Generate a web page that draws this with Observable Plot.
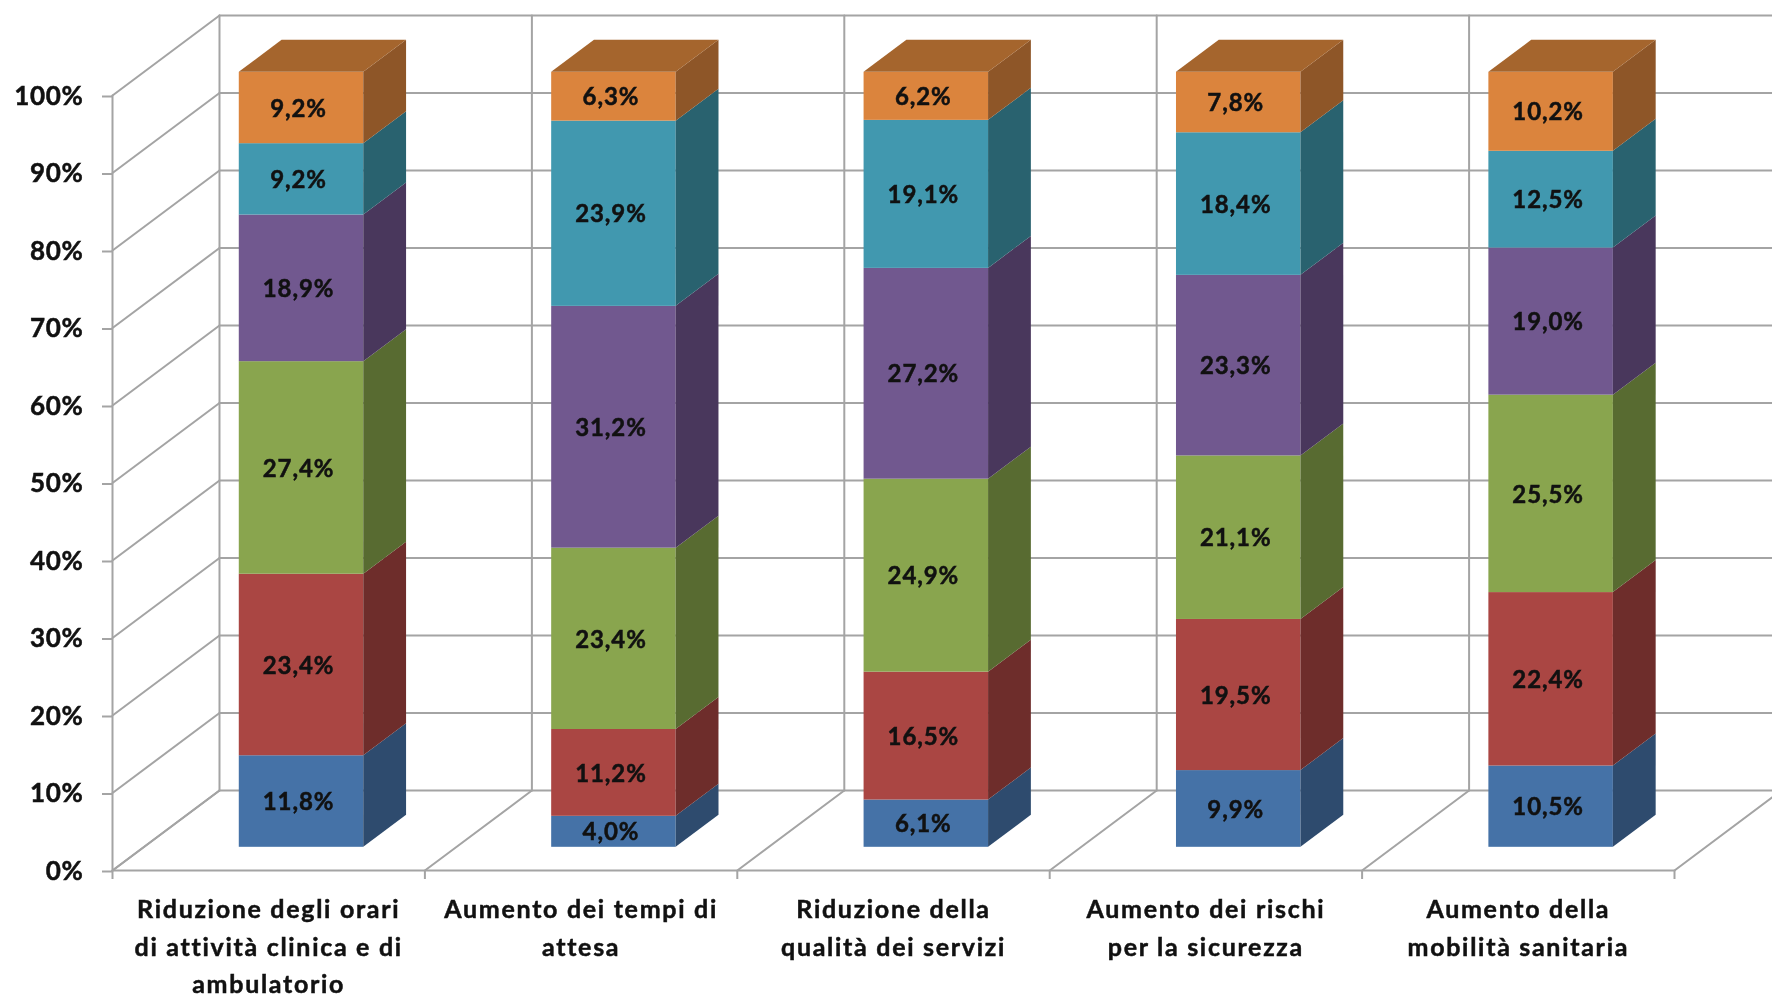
<!DOCTYPE html>
<html>
<head>
<meta charset="utf-8">
<style>
html,body{margin:0;padding:0;background:#fff;overflow:hidden}
svg{display:block}
</style>
<script src="https://cdn.jsdelivr.net/npm/d3@7"></script>
<script src="https://cdn.jsdelivr.net/npm/@observablehq/plot@0.6"></script>
</head>
<body>
<script>
const categories = [
  "Riduzione degli orari\ndi attività clinica e di\nambulatorio",
  "Aumento dei tempi di\nattesa",
  "Riduzione della\nqualità dei servizi",
  "Aumento dei rischi\nper la sicurezza",
  "Aumento della\nmobilità sanitaria"
];
const seriesBlue   = [11.8, 4.0, 6.1, 9.9, 10.5];
const seriesRed    = [23.4, 11.2, 16.5, 19.5, 22.4];
const seriesGreen  = [27.4, 23.4, 24.9, 21.1, 25.5];
const seriesPurple = [18.9, 31.2, 27.2, 23.3, 19.0];
const seriesTeal   = [9.2, 23.9, 19.1, 18.4, 12.5];
const seriesOrange = [9.2, 6.3, 6.2, 7.8, 10.2];
const allSeries = [seriesBlue, seriesRed, seriesGreen, seriesPurple, seriesTeal, seriesOrange];

const frontColors = ["#4572A7", "#AA4643", "#89A54E", "#71588F", "#4198AF", "#DB843D"];
const sideColors  = ["#2E4B6E", "#6E2D2B", "#586B31", "#49375C", "#29626F", "#8E5628"];
const topColor = "#A5652D";
const gridColor = "#A4A4A4";

const yTicks = d3.range(0, 101, 10);
const catEdges = d3.range(0, 6);

// oblique projection: depth 0 = front of the floor, depth 1 = back wall
const depthX = 0.3425, depthY = 10.32;
const px = (c, d) => c + d * depthX;
const py = (p, d) => p + d * depthY;
const barL = 0.3065, barR = 0.705, barD0 = 0.29, barD1 = 0.69;

// 100% stacked: each column is normalised to its own total
const segs = [];
categories.forEach((cat, c) => {
  const total = d3.sum(allSeries, s => s[c]);
  let base = 0;
  allSeries.forEach((s, i) => {
    const v = s[c];
    segs.push({c, i, v, y0: base / total * 100, y1: (base + v) / total * 100});
    base += v;
  });
});

const sides = segs.flatMap(s => [barD0, barD1].map(d => ({
  key: s.c + "-" + s.i, fill: sideColors[s.i],
  x: px(s.c + barR, d), y1: py(s.y0, d), y2: py(s.y1, d)
})));
const topFaces = categories.flatMap((_, c) => [barD0, barD1].map(d => ({
  key: c, y: py(100, d),
  x1: px(c + barL, d), x2: px(c + barR, d)
})));

const gridLines = [
  ...yTicks.flatMap(p => [
    {k: "back" + p, x: px(0, 1), y: py(p, 1)},
    {k: "back" + p, x: px(5, 1), y: py(p, 1)},
    {k: "left" + p, x: px(0, 0), y: py(p, 0)},
    {k: "left" + p, x: px(0, 1), y: py(p, 1)}
  ]),
  ...catEdges.flatMap(e => [
    {k: "floor" + e, x: px(e, 0), y: py(0, 0)},
    {k: "floor" + e, x: px(e, 1), y: py(0, 1)},
    {k: "wall" + e, x: px(e, 1), y: py(0, 1)},
    {k: "wall" + e, x: px(e, 1), y: py(100, 1)}
  ]),
  {k: "axisY", x: 0, y: 0}, {k: "axisY", x: 0, y: 100},
  {k: "axisX", x: 0, y: 0}, {k: "axisX", x: 5, y: 0}
];

const spaced = em => (index, scales, values, dims, ctx, next) => {
  const g = next(index, scales, values, dims, ctx);
  if (g.querySelector("text")) {
    g.style.letterSpacing = em;
    g.style.stroke = "#111";
    g.style.strokeWidth = "0.5px";
  }
  return g;
};

const chart = Plot.plot({
  width: 1772,
  height: 997,
  marginLeft: 112,
  marginRight: 98,
  marginTop: 95,
  marginBottom: 127,
  style: {background: "#fff", fontFamily: "Lato, sans-serif", filter: "blur(0.5px)"},
  x: {domain: [0, 5]},
  y: {domain: [0, 100]},
  color: {type: "identity"},
  marks: [
    Plot.line(gridLines, {x: "x", y: "y", z: "k", stroke: gridColor, strokeWidth: 2}),
    Plot.axisY({ticks: yTicks, tickFormat: d => d + "%", tickSize: 10, tickPadding: 19,
      stroke: gridColor, strokeWidth: 2, fill: "#111", fontSize: 26, fontWeight: "bold", label: null, dy: 1, render: spaced("0.7px")}),
    Plot.axisX({ticks: catEdges, tickFormat: () => "", tickSize: 9,
      stroke: gridColor, strokeWidth: 2, label: null}),
    Plot.rect(segs, {
      x1: d => px(d.c + barL, barD0), x2: d => px(d.c + barR, barD0),
      y1: d => py(d.y0, barD0), y2: d => py(d.y1, barD0),
      fill: d => frontColors[d.i]
    }),
    Plot.areaY(sides, {x: "x", y1: "y1", y2: "y2", z: "key", fill: "fill"}),
    Plot.areaX(topFaces, {y: "y", x1: "x1", x2: "x2", z: "key", fill: topColor}),
    Plot.text(segs, {
      x: d => px(d.c + (barL + barR) / 2, barD0),
      y: d => py((d.y0 + d.y1) / 2, barD0),
      text: d => d.v.toFixed(1).replace(".", ",") + "%",
      dx: -3, dy: 1,
      fontSize: 24, fontWeight: "bold", fill: "#111", render: spaced("0.9px")
    }),
    Plot.text(categories, {
      x: (d, i) => i + 0.5, y: () => 0, text: d => d,
      lineAnchor: "top", dy: 21, fontSize: 25, lineHeight: 1.5,
      fontWeight: "bold", fill: "#111", textAnchor: "middle", render: spaced("1.7px")
    })
  ]
});
document.body.appendChild(chart);
</script>
</body>
</html>
